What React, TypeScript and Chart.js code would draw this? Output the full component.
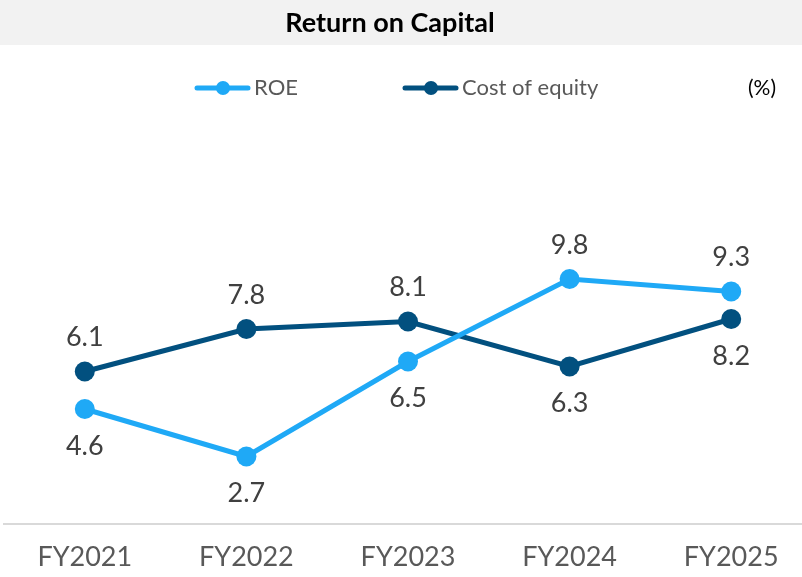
import React, { useEffect, useRef } from "react";
import { Chart, registerables } from "chart.js";

Chart.register(...registerables);

const categories = ["FY2021", "FY2022", "FY2023", "FY2024", "FY2025"];
const roe = [4.6, 2.7, 6.5, 9.8, 9.3];
const costOfEquity = [6.1, 7.8, 8.1, 6.3, 8.2];
const roeLabelSide = ["below", "below", "below", "above", "above"];
const coeLabelSide = ["above", "above", "above", "below", "below"];
const title = "Return on Capital";
const unitLabel = "(%)";

const ROE_COLOR = "#1FA9F6";
const COE_COLOR = "#02507F";
const FONT = "Lato, 'Open Sans', sans-serif";

export default function App() {
  const ref = useRef<HTMLCanvasElement>(null);
  useEffect(() => {
    const canvas = ref.current!;
    const sides = [roeLabelSide, coeLabelSide];
    const overlay = {
      id: "overlay",
      beforeDraw(chart: any) {
        const ctx = chart.ctx;
        ctx.save();
        ctx.fillStyle = "#ffffff";
        ctx.fillRect(0, 0, chart.width, chart.height);
        ctx.fillStyle = "#F2F2F2";
        ctx.fillRect(0, 0, 802, 45);
        ctx.fillStyle = "#000000";
        ctx.font = `bold 27px ${FONT}`;
        ctx.textAlign = "center";
        ctx.textBaseline = "middle";
        ctx.fillText(title, 390, 23);
        // legend
        const items = [
          { x: 195, text: "ROE", color: ROE_COLOR },
          { x: 403, text: "Cost of equity", color: COE_COLOR },
        ];
        const ly = 88;
        items.forEach((it) => {
          ctx.strokeStyle = it.color;
          ctx.lineWidth = 5;
          ctx.lineCap = "round";
          ctx.beginPath();
          ctx.moveTo(it.x + 2, ly);
          ctx.lineTo(it.x + 53, ly);
          ctx.stroke();
          ctx.fillStyle = it.color;
          ctx.beginPath();
          ctx.arc(it.x + 28, ly, 7, 0, Math.PI * 2);
          ctx.fill();
          ctx.fillStyle = "#595959";
          ctx.font = `22px ${FONT}`;
          ctx.textAlign = "left";
          ctx.fillText(it.text, it.x + 59, ly);
        });
        ctx.fillStyle = "#000000";
        ctx.font = `21px ${FONT}`;
        ctx.fillText(unitLabel, 748, ly);
        ctx.restore();
      },
      afterDatasetsDraw(chart: any) {
        const ctx = chart.ctx;
        ctx.save();
        ctx.font = `27px ${FONT}`;
        ctx.fillStyle = "#404040";
        ctx.textAlign = "center";
        ctx.textBaseline = "middle";
        chart.data.datasets.forEach((ds: any, di: number) => {
          const meta = chart.getDatasetMeta(di);
          meta.data.forEach((pt: any, i: number) => {
            const off = sides[di][i] === "above" ? -34 : 37;
            ctx.fillText(ds.data[i].toFixed(1), pt.x, pt.y + off);
          });
        });
        ctx.restore();
      },
    };
    const chart = new Chart(canvas, {
      type: "line",
      data: {
        labels: categories,
        datasets: [
          {
            label: "ROE",
            data: roe,
            borderColor: ROE_COLOR,
            backgroundColor: ROE_COLOR,
            borderWidth: 5,
            pointRadius: 10,
            pointHoverRadius: 10,
            pointBorderWidth: 0,
            tension: 0,
            clip: false,
          },
          {
            label: "Cost of equity",
            data: costOfEquity,
            borderColor: COE_COLOR,
            backgroundColor: COE_COLOR,
            borderWidth: 5,
            pointRadius: 10,
            pointHoverRadius: 10,
            pointBorderWidth: 0,
            tension: 0,
            clip: false,
          },
        ],
      },
      options: {
        responsive: false,
        animation: false,
        layout: { autoPadding: false, padding: { top: 224, left: 4, right: 0, bottom: 0 } },
        plugins: { legend: { display: false }, tooltip: { enabled: false }, title: { display: false } },
        scales: {
          x: {
            offset: true,
            grid: { display: false, drawTicks: false },
            border: { display: true, color: "#D9D9D9", width: 2 },
            ticks: { color: "#595959", font: { family: FONT, size: 27 }, padding: 17, maxRotation: 0 },
            afterFit(scale: any) {
              scale.height = 53;
              scale.paddingLeft = 0;
              scale.paddingRight = 0;
            },
          },
          y: { display: false, min: 0, max: 12 },
        },
      },
      plugins: [overlay],
    });
    return () => chart.destroy();
  }, []);
  return (
    <div style={{ position: "absolute", left: 0, top: 0, width: 802, height: 577, overflow: "hidden", background: "#fff" }}>
      <canvas ref={ref} width={812} height={577} style={{ display: "block" }} />
    </div>
  );
}
